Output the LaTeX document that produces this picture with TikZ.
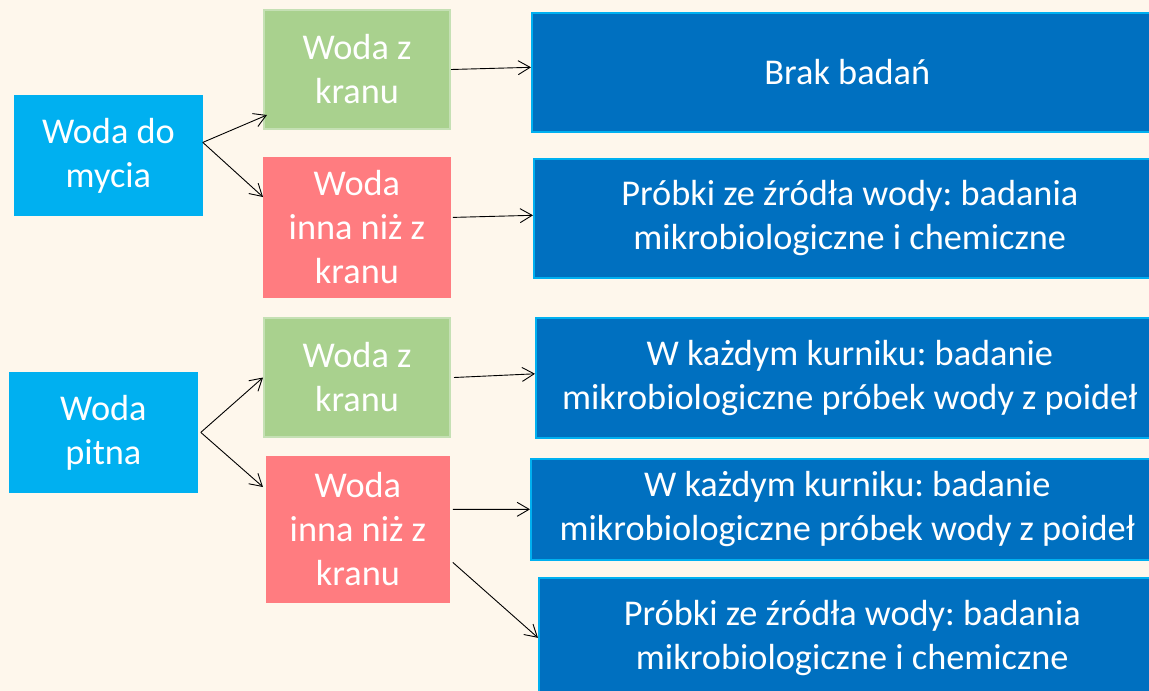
\documentclass[tikz,border=0pt]{standalone}
\usepackage{fontspec}
\setmainfont{Carlito}
\frenchspacing
\usetikzlibrary{arrows.meta}
\definecolor{bgcream}{HTML}{FEF7EC}
\definecolor{cyanbox}{HTML}{00B0F0}
\definecolor{greenbox}{HTML}{A9D18E}
\definecolor{greenedge}{HTML}{C5E0B4}
\definecolor{redbox}{HTML}{FF7C80}
\definecolor{bluebox}{HTML}{0070C0}
\tikzset{
  basebox/.style={rectangle, inner sep=0pt, align=center, text=white,
    font=\fontsize{36.3}{44}\selectfont\frenchspacing, anchor=north west},
  srcbox/.style={basebox, fill=cyanbox, draw=cyanbox, line width=0.8pt},
  tapbox/.style={basebox, fill=greenbox, draw=greenedge, line width=2pt},
  otherbox/.style={basebox, fill=redbox, draw=redbox, line width=0.8pt},
  resbox/.style={basebox, fill=bluebox, draw=cyanbox, line width=1.6pt},
  conn/.style={draw=black, line width=0.9pt, -{Straight Barb[length=12pt,width=14pt,line width=0.9pt]}}
}
\begin{document}
\begin{tikzpicture}[x=1pt,y=-1pt]
\useasboundingbox (0,0) rectangle (1149,691);
\clip (0,0) rectangle (1149,691);
\fill[bgcream] (0,0) rectangle (1149,691);
% left sources
\node[srcbox, minimum width=188pt, minimum height=120pt] (A1) at (14,95) {Woda do\\mycia};
\node[srcbox, minimum width=188pt, minimum height=120pt] (A2) at (9,372) {Woda\\pitna};
% middle
\node[tapbox, minimum width=186pt, minimum height=119pt] (B1) at (263,9) {Woda z\\kranu};
\node[otherbox, minimum width=187pt, minimum height=140pt] (C1) at (263,157) {Woda\\inna niż z\\kranu};
\node[tapbox, minimum width=186pt, minimum height=119pt] (B2) at (263,317) {Woda z\\kranu};
\node[otherbox, minimum width=183pt, minimum height=146pt] (C2) at (266,456) {Woda\\inna niż z\\kranu};
% right results
\node[resbox, minimum width=631pt, minimum height=119pt] (R1) at (531,12) {Brak badań};
\node[resbox, minimum width=632pt, minimum height=119pt] (R2) at (533,158) {Próbki ze źródła wody: badania\\mikrobiologiczne i chemiczne};
\node[resbox, minimum width=628pt, minimum height=120pt] (R3) at (535,317) {W każdym kurniku: badanie\\mikrobiologiczne próbek wody z poideł};
\node[resbox, minimum width=633pt, minimum height=101pt] (R4) at (530,458) {W każdym kurniku: badanie\\mikrobiologiczne próbek wody z poideł};
\node[resbox, minimum width=627pt, minimum height=120pt] (R5) at (538,577) {Próbki ze źródła wody: badania\\mikrobiologiczne i chemiczne};
% connectors
\draw[conn] ([yshift=13pt]A1.east) -- ([xshift=4pt,yshift=15pt]B1.south west);
\draw[conn] ([yshift=13pt]A1.east) -- ([yshift=-40pt]C1.north west);
\draw[conn] (B1.east) -- ([yshift=5pt]R1.west);
\draw[conn] ([xshift=2pt,yshift=10pt]C1.east) -- ([yshift=3pt]R2.west);
\draw[conn] ([xshift=3pt]A2.east) -- (B2.west);
\draw[conn] ([xshift=3pt]A2.east) -- ([xshift=-3pt,yshift=-31pt]C2.north west);
\draw[conn] ([xshift=3pt]B2.east) -- ([yshift=4pt]R3.west);
\draw[conn] ([xshift=3pt,yshift=20pt]C2.east) -- (R4.west);
\draw[conn] ([xshift=3pt,yshift=-33pt]C2.east) -- (R5.west);
\end{tikzpicture}
\end{document}
